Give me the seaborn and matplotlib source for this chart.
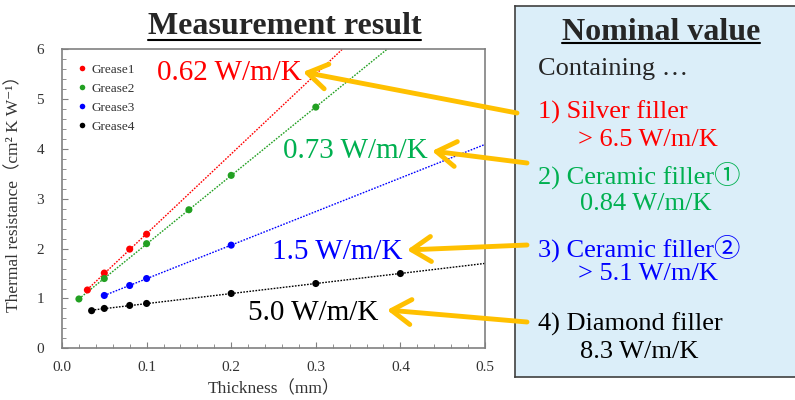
import numpy as np
import pandas as pd
import matplotlib.pyplot as plt
import seaborn as sns
from matplotlib.ticker import MultipleLocator, FormatStrFormatter
from matplotlib.patches import FancyArrowPatch
from matplotlib.lines import Line2D

sns.set_theme(style="ticks")
plt.rcParams["font.family"] = ["Liberation Serif", "Noto Sans CJK JP", "DejaVu Serif"]

W, H = 795, 400

# --- data ---
series = ["Grease1", "Grease2", "Grease3", "Grease4"]
point_colors = ["#ff0000", "#22a022", "#0000ff", "#000000"]
text_colors = ["#ff0000", "#00b050", "#0000ff", "#000000"]

g1_x = [0.03, 0.05, 0.08, 0.10]
g1_y = [1.17, 1.51, 1.99, 2.29]
g2_x = [0.02, 0.05, 0.10, 0.15, 0.20, 0.30]
g2_y = [0.99, 1.40, 2.10, 2.78, 3.47, 4.84]
g3_x = [0.05, 0.08, 0.10, 0.20]
g3_y = [1.06, 1.26, 1.40, 2.07]
g4_x = [0.035, 0.05, 0.08, 0.10, 0.20, 0.30, 0.40]
g4_y = [0.755, 0.80, 0.86, 0.90, 1.10, 1.30, 1.50]

measured_k = ["0.62 W/m/K", "0.73 W/m/K", "1.5 W/m/K", "5.0 W/m/K"]
filler_names = ["1) Silver filler", "2) Ceramic filler①", "3) Ceramic filler②", "4) Diamond filler"]
nominal_k = ["> 6.5 W/m/K", "0.84 W/m/K", "> 5.1 W/m/K", "8.3 W/m/K"]

xs_all = [g1_x, g2_x, g3_x, g4_x]
ys_all = [g1_y, g2_y, g3_y, g4_y]


def fx(px):
    return px / W


def fy(py):
    return 1 - py / H


fig = plt.figure(figsize=(W / 100, H / 100), dpi=100)
ax = fig.add_axes([fx(62), fy(348.3), (485 - 62) / W, (348.3 - 49.3) / H])

# fitted trend lines (dotted), then the measured points
for name, x, y, c in zip(series, xs_all, ys_all, point_colors):
    slope, icpt = np.polyfit(x, y, 1)
    line_x = np.array([min(x), 0.5])
    sns.lineplot(x=line_x, y=slope * line_x + icpt, color=c, lw=1.0,
                 linestyle=(0, (1.2, 1.0)), ax=ax, zorder=2)
for name, x, y, c in zip(series, xs_all, ys_all, point_colors):
    sns.scatterplot(x=x, y=y, color=c, s=26, edgecolor="none",
                    ax=ax, zorder=3, legend=False)

ax.set_xlim(0, 0.5)
ax.set_ylim(0, 6)
ax.xaxis.set_major_locator(MultipleLocator(0.1))
ax.xaxis.set_minor_locator(MultipleLocator(0.02))
ax.yaxis.set_major_locator(MultipleLocator(1))
ax.yaxis.set_minor_locator(MultipleLocator(0.2))
ax.xaxis.set_major_formatter(FormatStrFormatter("%.1f"))
ax.yaxis.set_major_formatter(FormatStrFormatter("%d"))
ax.tick_params(axis="both", which="both", direction="in", colors="#808080",
               labelcolor="#333333", labelsize=11)
ax.tick_params(axis="both", which="major", length=4, width=0.8)
ax.tick_params(axis="both", which="minor", length=3, width=0.6)
ax.tick_params(axis="x", pad=9)
ax.tick_params(axis="y", pad=13)
for sp in ax.spines.values():
    sp.set_color("#808080")
    sp.set_linewidth(1.2)

ax.set_xlabel("Thickness（mm）", fontsize=12.5, color="#333333", labelpad=5)
ax.set_ylabel("Thermal resistance（cm² K W⁻¹）", fontsize=12.5, color="#333333")
ax.yaxis.set_label_coords(-0.093, 0.53)

handles = [Line2D([], [], marker="o", linestyle="none", markersize=4,
                  markerfacecolor=c, markeredgecolor="none") for c in point_colors]
leg = ax.legend(handles, series, loc="upper left", frameon=False, fontsize=9.5,
                handlelength=0.8, handletextpad=0.3, labelspacing=0.5,
                borderaxespad=0.7)
for t in leg.get_texts():
    t.set_color("#333333")

# right panel: nominal values
box = fig.add_axes([fx(515), fy(377), 0.4, (377 - 6) / H])
box.set_facecolor("#dbeef9")
box.set_xticks([])
box.set_yticks([])
for sp in box.spines.values():
    sp.set_color("#404040")
    sp.set_linewidth(1.2)

title_l = fig.text(fx(284.5), fy(27), "Measurement result", fontsize=23,
                   fontweight="bold", ha="center", va="center")
title_r = fig.text(fx(661), fy(32), "Nominal value", fontsize=23,
                   fontweight="bold", ha="center", va="center")
fig.text(fx(538), fy(69), "Containing …", fontsize=19, va="center")

name_y = [112, 175, 248, 324]
value_y = [140, 204, 274, 352]
value_x = [578, 580, 578, 580]
for i in range(4):
    fig.text(fx(538), fy(name_y[i]), filler_names[i], fontsize=19,
             color=text_colors[i], va="center")
    fig.text(fx(value_x[i]), fy(value_y[i]), nominal_k[i], fontsize=19,
             color=text_colors[i], va="center")

# measured conductivities next to the lines
meas_x = [157, 283, 272, 248]
meas_y = [73, 151, 252, 313]
for i in range(4):
    fig.text(fx(meas_x[i]), fy(meas_y[i]), measured_k[i], fontsize=21,
             color=text_colors[i], va="center")

# arrows from the panel to the measured values
heads = [(303, 72), (432, 151), (407, 250), (387, 310)]
tails = [(517, 113), (527, 163), (527, 245), (527, 322)]
for (hx, hy), (tx, ty) in zip(heads, tails):
    arr = FancyArrowPatch((fx(tx), fy(ty)), (fx(hx), fy(hy)),
                          transform=fig.transFigure,
                          arrowstyle="->,head_length=0.7,head_width=0.45",
                          mutation_scale=20, color="#ffc000", lw=3.5,
                          shrinkA=0, shrinkB=0, zorder=5)
    fig.add_artist(arr)

# underline the two headings
fig.canvas.draw()
for t, uy in [(title_l, 39.5), (title_r, 43)]:
    bb = t.get_window_extent()
    fig.add_artist(Line2D([bb.x0 / W, bb.x1 / W], [fy(uy), fy(uy)],
                          transform=fig.transFigure, color="black", lw=1.5))

fig.savefig("out.png", dpi=100)
